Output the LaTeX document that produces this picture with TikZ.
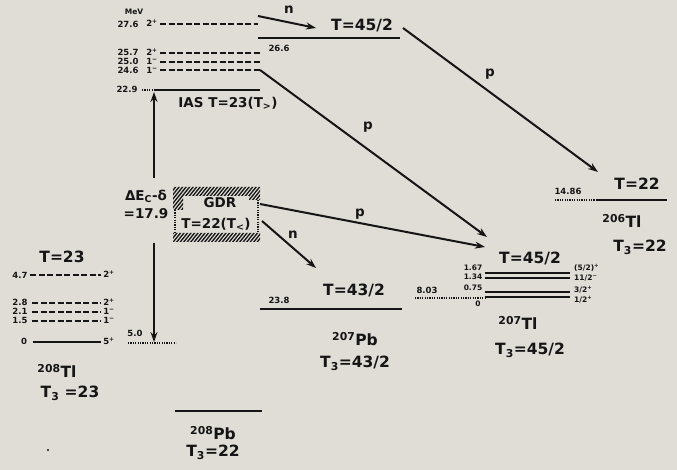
\documentclass[tikz,border=0pt]{standalone}
\usepackage{fontspec}
\setmainfont{DejaVu Sans}
\usetikzlibrary{arrows.meta}
\definecolor{bg}{HTML}{E0DCD6}
\definecolor{ink}{HTML}{151515}
\begin{document}
\begin{tikzpicture}[x=1pt,y=-1pt,
 every node/.style={text=ink, inner sep=0pt},
 big/.style={font=\bfseries\fontsize{15.5}{18}\selectfont},
 mid/.style={font=\bfseries\fontsize{13.5}{16}\selectfont},
 sm/.style={font=\bfseries\fontsize{8.5}{9}\selectfont},
 tiny/.style={font=\bfseries\fontsize{7.5}{8}\selectfont},
 lvl/.style={draw=ink, line width=2pt},
 dlvl/.style={draw=ink, line width=2pt, dash pattern=on 6pt off 2.5pt},
 dotl/.style={draw=ink, line width=1.1pt, dash pattern=on 1.2pt off 1.2pt},
 arr/.style={draw=ink, line width=2pt, -{Stealth[length=10pt,width=7pt]}},
 ]
\fill[bg] (0,0) rectangle (677,470);
\useasboundingbox (0,0) rectangle (677,470);

% ---------- upper cluster (208Pb excitations) ----------
\node[tiny] (mev) at (134,12) {MeV};
\node[sm] (e276) at (128,24) {27.6};
\node[sm] (s276) at (152,23) {2\textsuperscript{+}};
\coordinate (a276) at (160,24); \coordinate (b276) at (258,24);
\draw[dlvl] (a276) -- (b276);

\node[sm] (e257) at (128,52) {25.7};
\node[sm] (s257) at (152,52) {2\textsuperscript{+}};
\coordinate (a257) at (160,53); \coordinate (b257) at (260,53);
\draw[dlvl] (a257) -- (b257);

\node[sm] (e250) at (128,61) {25.0};
\node[sm] (s250) at (152,61) {1\textsuperscript{−}};
\coordinate (a250) at (160,62); \coordinate (b250) at (260,62);
\draw[dlvl] (a250) -- (b250);

\node[sm] (e246) at (128,70) {24.6};
\node[sm] (s246) at (152,70) {1\textsuperscript{−}};
\coordinate (a246) at (160,70); \coordinate (b246) at (260,70);
\draw[dlvl] (a246) -- (b246);

\node[sm] (e229) at (127,89) {22.9};
\coordinate (a229) at (142,90); \coordinate (b229) at (260,90);
\draw[dotl] (a229) -- ++(12,0);
\draw[lvl] (154,90) -- (b229);
\node[mid] (ias) at (228,103) {IAS T=23(T\textsubscript{>})};

% Coulomb energy difference
\node[mid, align=center] (dE) at (146,204) {ΔE\textsubscript{C}-δ\\[2pt]=17.9};
\coordinate (ias0) at (154,92);
\coordinate (tl5) at (154,342);
\draw[arr] (154,178) -- (ias0);
\draw[arr] (154,243) -- (tl5);
\node[sm] (e50) at (135,333) {5.0};
\draw[dotl] (128,343) -- (176,343);

% ---------- GDR box ----------
\begin{scope}
\clip (173,187) rectangle (260,196) (173,233) rectangle (260,242)
      (173,187) rectangle (183,210) (249,187) rectangle (260,200);
\foreach \i in {100,103.5,...,280} \draw[ink, line width=1.3pt] (\i,246) -- ++(50,-62);
\end{scope}
\draw[dotl] (175,210) -- (175,233);
\draw[dotl] (258,200) -- (258,233);
\node[mid] (gdr) at (220,203) {GDR};
\node[mid] (gdrT) at (216,224) {T=22(T\textsubscript{<})};
\coordinate (gdrp) at (260,204);
\coordinate (gdrn) at (262,221);

% ---------- 207Pb + n (upper) ----------
\coordinate (nA) at (258,16);
\coordinate (nB) at (316,28);
\draw[arr] (nA) -- (nB);
\node[mid] (nlab1) at (289,10) {n};
\node[big] (T452a) at (362,25) {T=45/2};
\coordinate (a266) at (258,38); \coordinate (b266) at (400,38);
\draw[lvl] (a266) -- (b266);
\node[sm] (e266) at (279,48) {26.6};

% ---------- 206Tl ----------
\coordinate (pA) at (403,28);
\coordinate (pB) at (598,172);
\draw[arr] (pA) -- (pB);
\node[mid] (plab1) at (490,74) {p};
\node[big] (T22) at (637,184) {T=22};
\node[sm] (e1486) at (568,191) {14.86};
\draw[dotl] (555,200) -- (597,200);
\draw[lvl] (597,200) -- (667,200);
\node[big] (tl206) at (622,221) {\textsuperscript{206}Tl};
\node[big] (t3a) at (640,247) {T\textsubscript{3}=22};

% ---------- 207Tl ----------
\coordinate (p2B) at (487,237);
\draw[arr] (b246) -- (p2B);
\node[mid] (plab2) at (368,127) {p};
\coordinate (p3B) at (485,247);
\draw[arr] (gdrp) -- (p3B);
\node[mid] (plab3) at (360,214) {p};
\node[big] (T452b) at (530,258) {T=45/2};
\draw[lvl, line width=1.6pt] (485,273) -- (570,273);
\draw[lvl, line width=1.6pt] (485,278) -- (570,278);
\draw[lvl, line width=1.6pt] (485,292) -- (570,292);
\draw[lvl, line width=1.6pt] (485,297) -- (570,297);
\node[tiny] (e167) at (473,268) {1.67};
\node[tiny] (e134) at (473,277) {1.34};
\node[tiny] (e075) at (473,288) {0.75};
\node[tiny] (e0b) at (478,304) {0};
\node[tiny, anchor=west] (j1) at (574,268) {(5/2)\textsuperscript{+}};
\node[tiny, anchor=west] (j2) at (574,278) {11/2\textsuperscript{−}};
\node[tiny, anchor=west] (j3) at (574,290) {3/2\textsuperscript{+}};
\node[tiny, anchor=west] (j4) at (574,300) {1/2\textsuperscript{+}};
\node[sm] (e803) at (427,290) {8.03};
\draw[dotl] (415,298) -- (485,298);
\node[big] (tl207) at (518,323) {\textsuperscript{207}Tl};
\node[big] (t3b) at (530,350) {T\textsubscript{3}=45/2};

% ---------- 207Pb ----------
\coordinate (n2B) at (316,268);
\draw[arr] (gdrn) -- (n2B);
\node[mid] (nlab2) at (293,235) {n};
\node[big] (T432) at (354,290) {T=43/2};
\node[sm] (e238) at (279,300) {23.8};
\draw[lvl] (260,309) -- (402,309);
\node[big] (pb207) at (355,339) {\textsuperscript{207}Pb};
\node[big] (t3c) at (355,363) {T\textsubscript{3}=43/2};

% ---------- 208Tl ----------
\node[big] (T23) at (62,257) {T=23};
\node[sm] (e47) at (20,275) {4.7};
\draw[dlvl] (30,275) -- (101,275);
\node[sm] (s47) at (109,274) {2\textsuperscript{+}};
\node[sm] (e28) at (20,302) {2.8};
\draw[dlvl] (32,303) -- (101,303);
\node[sm] (s28) at (109,302) {2\textsuperscript{+}};
\node[sm] (e21) at (20,311) {2.1};
\draw[dlvl] (32,312) -- (101,312);
\node[sm] (s21) at (109,311) {1\textsuperscript{−}};
\node[sm] (e15) at (20,320) {1.5};
\draw[dlvl] (32,321) -- (101,321);
\node[sm] (s15) at (109,320) {1\textsuperscript{−}};
\node[sm] (e0a) at (24,341) {0};
\draw[lvl] (33,342) -- (101,342);
\node[sm] (s0) at (109,341) {5\textsuperscript{+}};
\node[big] (tl208) at (57,371) {\textsuperscript{208}Tl};
\node[big] (t3d) at (70,393) {T\textsubscript{3} =23};

% ---------- 208Pb ----------
\draw[lvl] (175,411) -- (262,411);
\node[big] (pb208) at (213,433) {\textsuperscript{208}Pb};
\node[big] (t3e) at (213,452) {T\textsubscript{3}=22};
\fill[ink] (48,450) circle (1.2);
\end{tikzpicture}
\end{document}
